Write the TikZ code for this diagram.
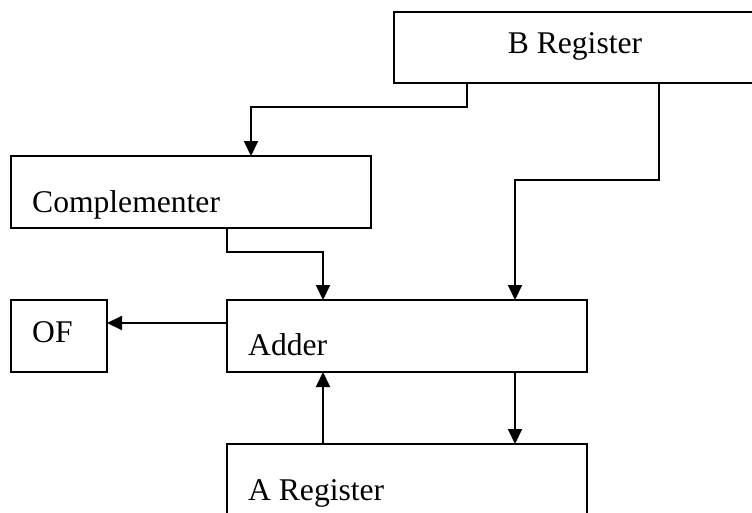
\documentclass[tikz,border=0pt]{standalone}
\usepackage{fontspec}
\setmainfont{Liberation Serif}
\usetikzlibrary{arrows.meta}
\begin{document}
\begin{tikzpicture}[x=1pt,y=-1pt,
  blk/.style={draw,line width=2pt,inner sep=0pt,outer sep=0pt,anchor=north west},
  lbl/.style={anchor=base west,inner sep=0pt,font=\fontsize{31.6}{38}\selectfont},
  conn/.style={line width=2pt,-{Triangle[length=15pt,width=14pt]}}]
\useasboundingbox (0,0) rectangle (752,512);
\begin{scope}
\clip (0,0) rectangle (752,512);
\node[blk,minimum width=390pt,minimum height=71pt] (breg) at (394,12) {};
\node[blk,minimum width=360pt,minimum height=72pt] (comp) at (11,156) {};
\node[blk,minimum width=96pt,minimum height=72pt] (of) at (11,300) {};
\node[blk,minimum width=360pt,minimum height=72pt] (adder) at (227,300) {};
\node[blk,minimum width=360pt,minimum height=90pt] (areg) at (227,444) {};
\end{scope}
\node[lbl,anchor=base] (tb) at (575,53) {B Register};
\node[lbl] (tc) at (32,212) {Complementer};
\node[lbl] (tof) at (32,342) {OF};
\node[lbl] (tadd) at (248,355) {Adder};
\node[lbl] (ta) at (248,500) {A Register};
\draw[conn] (467,0 |- breg.south) -- (467,107) -- (251,107) -- (251,0 |- comp.north);
\draw[conn] (659,0 |- breg.south) -- (659,180) -- (515,180) -- (515,0 |- adder.north);
\draw[conn] (227,0 |- comp.south) -- (227,252) -- (323,252) -- (323,0 |- adder.north);
\draw[conn] (adder.west |- 0,323) -- (of.east |- 0,323);
\draw[conn] (323,0 |- areg.north) -- (323,0 |- adder.south);
\draw[conn] (515,0 |- adder.south) -- (515,0 |- areg.north);
\end{tikzpicture}
\end{document}
